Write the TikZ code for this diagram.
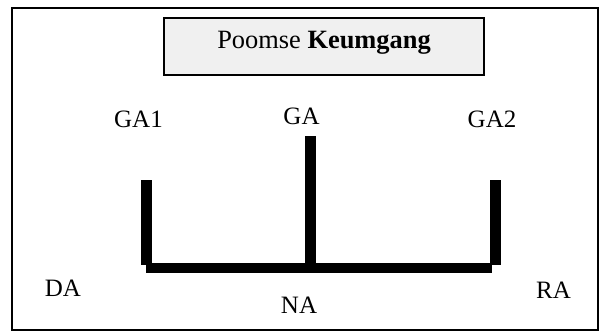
\documentclass[tikz,border=0pt]{standalone}
\usepackage{fontspec}
\setmainfont{Liberation Serif}
\definecolor{titlegray}{HTML}{F0F0F0}
\tikzset{
	lbl/.style={anchor=base, inner sep=0pt, font=\fontsize{18.75}{22}\selectfont},
	stance/.style={line width=7.9pt, color=black}
}

\begin{document}
\begin{tikzpicture}[x=0.75pt, y=-0.75pt]
			%%%%% START %%%%%
			
			\useasboundingbox (0, 0) rectangle (605, 332);
			\draw[line width=1.1pt] (12, 8) rectangle (598, 330);
			
			\draw[line width=1.1pt, fill=titlegray] (164, 18) rectangle (484, 75);
			\node[lbl, font=\fontsize{19.8}{23}\selectfont] (title) at (324, 48) {Poomse \textbf{Keumgang}};
			
			\node[lbl] (ga1) at (138.5, 127) {GA1};
			\node[lbl] (ga) at (301.5, 124) {GA};
			\node[lbl] (ga2) at (492, 127) {GA2};
			
			\node[lbl] (da) at (63, 296) {DA};
			\node[lbl] (na) at (299, 313) {NA};
			\node[lbl] (ra) at (553.5, 298) {RA};
			
			\draw[stance] (146.5, 180) -- (146.5, 265);
			\draw[stance] (310.5, 136) -- (310.5, 268);
			\draw[stance] (495.5, 180) -- (495.5, 265);
			\draw[stance] (146, 268) -- (492, 268);
			
			%%%%% END %%%%%
\end{tikzpicture}
\end{document}
